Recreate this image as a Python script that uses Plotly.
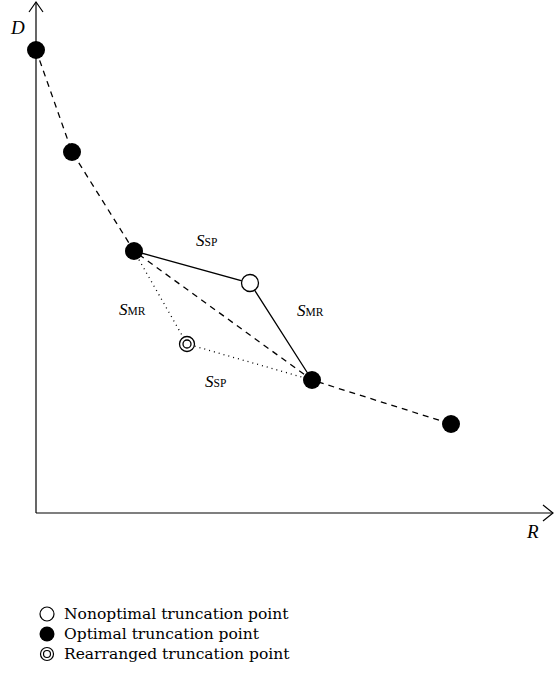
import plotly.graph_objects as go

# Data (in chart units, origin at axis corner)
opt_x = [0, 36, 98, 276, 415]
opt_y = [463, 361, 262, 133, 89]
nonopt_x = [214]
nonopt_y = [230]
rearr_x = [151]
rearr_y = [169]
solid_x = [98, 214, 276]
solid_y = [262, 230, 133]
dotted_x = [98, 151, 276]
dotted_y = [262, 169, 133]
legend_labels = ["Nonoptimal truncation point", "Optimal truncation point", "Rearranged truncation point"]

FONT = "Liberation Serif"
LFONT = "DejaVu Serif"
fig = go.Figure()

# axes with arrows
ax = dict(color="black", width=1.2)
fig.add_trace(go.Scatter(x=[0, 0], y=[0, 511], mode="lines", line=ax, hoverinfo="skip"))
fig.add_trace(go.Scatter(x=[0, 517], y=[0, 0], mode="lines", line=ax, hoverinfo="skip"))
fig.add_trace(go.Scatter(x=[-7, 0, 7], y=[501, 511, 501], mode="lines", line=ax, hoverinfo="skip"))
fig.add_trace(go.Scatter(x=[507, 517, 507], y=[8, 0, -8], mode="lines", line=ax, hoverinfo="skip"))

# lines
fig.add_trace(go.Scatter(x=opt_x, y=opt_y, mode="lines", line=dict(color="black", width=1.3, dash="6px,5px")))
fig.add_trace(go.Scatter(x=solid_x, y=solid_y, mode="lines", line=dict(color="black", width=1.3)))
fig.add_trace(go.Scatter(x=dotted_x, y=dotted_y, mode="lines", line=dict(color="black", width=1.3, dash="1px,4px")))

# markers
fig.add_trace(go.Scatter(x=opt_x, y=opt_y, mode="markers", marker=dict(size=18, color="black")))
fig.add_trace(go.Scatter(x=nonopt_x, y=nonopt_y, mode="markers",
                         marker=dict(size=17, color="white", line=dict(color="black", width=1.3))))
fig.add_trace(go.Scatter(x=rearr_x, y=rearr_y, mode="markers",
                         marker=dict(size=15, color="white", line=dict(color="black", width=1.3))))
fig.add_trace(go.Scatter(x=rearr_x, y=rearr_y, mode="markers",
                         marker=dict(size=8, color="white", line=dict(color="black", width=1.3))))

# legend (custom)
ly = [-101, -121, -141]
lx = 11
fig.add_trace(go.Scatter(x=[lx], y=[ly[0]], mode="markers",
                         marker=dict(size=14, color="white", line=dict(color="black", width=1.2))))
fig.add_trace(go.Scatter(x=[lx], y=[ly[1]], mode="markers", marker=dict(size=15, color="black")))
fig.add_trace(go.Scatter(x=[lx], y=[ly[2]], mode="markers",
                         marker=dict(size=13, color="white", line=dict(color="black", width=1.2))))
fig.add_trace(go.Scatter(x=[lx], y=[ly[2]], mode="markers",
                         marker=dict(size=7, color="white", line=dict(color="black", width=1.2))))
for lab_, yy in zip(legend_labels, ly):
    fig.add_annotation(x=26, y=yy, text=lab_, showarrow=False, xanchor="left", yanchor="middle",
                       font=dict(family=LFONT, size=15.5, color="black"))

# text labels
def lab(x, y, t, size=17):
    fig.add_annotation(x=x, y=y, text=t, showarrow=False, font=dict(family=FONT, size=size, color="black"))

def s_label(sub):
    return "<i>S</i><span style='font-size:11.5px'>" + sub + "</span>"

lab(-19, 486, "<i>D</i>", 19)
lab(496, -18, "<i>R</i>", 19)
lab(170, 273, s_label("SP"))
lab(96, 204, s_label("MR"))
lab(274, 203, s_label("MR"))
lab(179, 132, s_label("SP"))

fig.update_layout(
    width=555, height=684, margin=dict(l=0, r=0, t=0, b=0),
    plot_bgcolor="white", paper_bgcolor="white", showlegend=False,
    xaxis=dict(range=[-36, 519], visible=False, fixedrange=True),
    yaxis=dict(range=[-171, 513], visible=False, fixedrange=True),
)
fig.write_html("out.html", config={"displayModeBar": False},
               post_script="document.body.style.margin='0';document.body.style.overflow='hidden';")
